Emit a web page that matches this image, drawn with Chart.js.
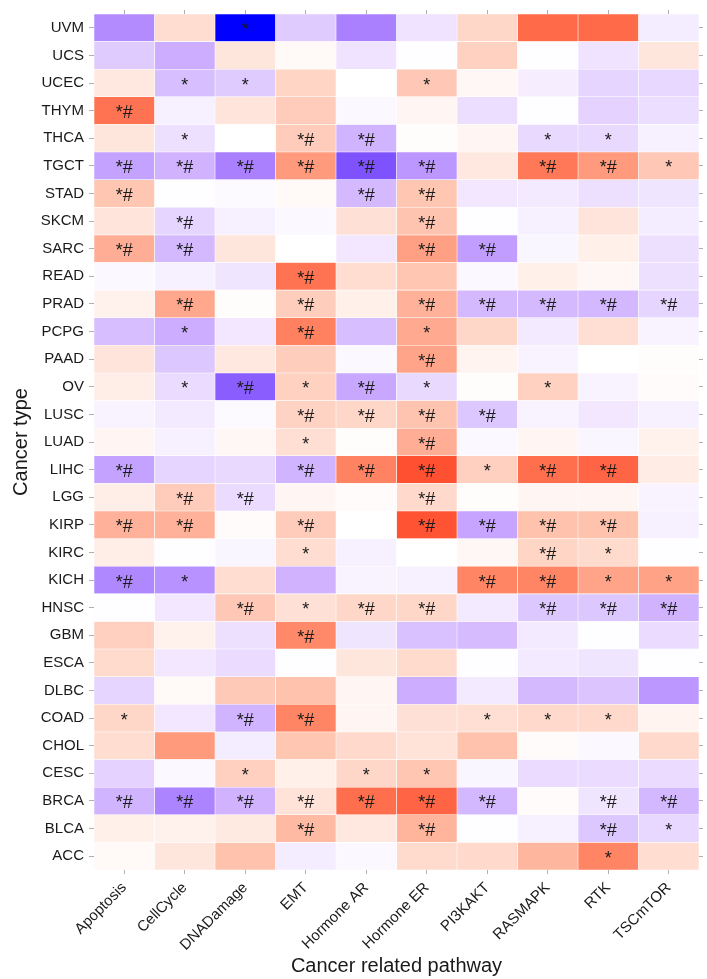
<!DOCTYPE html>
<html><head><meta charset="utf-8">
<script src="https://cdn.jsdelivr.net/npm/chart.js@4.4.1/dist/chart.umd.min.js"></script>
<style>html,body{margin:0;padding:0;background:#fff;}canvas{display:block;}</style>
</head><body>
<canvas id="c" width="707" height="979"></canvas>
<script>
const cancerTypes = ['UVM','UCS','UCEC','THYM','THCA','TGCT','STAD','SKCM','SARC','READ','PRAD','PCPG','PAAD','OV','LUSC','LUAD','LIHC','LGG','KIRP','KIRC','KICH','HNSC','GBM','ESCA','DLBC','COAD','CHOL','CESC','BRCA','BLCA','ACC'];
const pathways = ['Apoptosis','CellCycle','DNADamage','EMT','Hormone AR','Hormone ER','PI3KAKT','RASMAPK','RTK','TSCmTOR'];

// Scores per pathway, in cancerTypes order (UVM ... ACC)
const apoptosis  = [-0.5,-0.22,0.12,0.7,0.13,-0.4,0.3,0.14,0.42,-0.03,0.07,-0.28,0.14,0.09,-0.05,0.05,-0.4,0.09,0.4,0.09,-0.52,-0.01,0.25,0.19,-0.18,0.21,0.18,-0.19,-0.32,0.08,0.03];
const cellCycle  = [0.18,-0.35,-0.28,-0.06,-0.13,-0.33,-0.01,-0.18,-0.3,-0.06,0.45,-0.35,-0.24,-0.15,-0.09,-0.06,-0.18,0.27,0.4,-0.01,-0.47,-0.1,0.07,-0.1,0.03,-0.1,0.52,-0.03,-0.53,0.07,0.13];
const dnaDamage  = [-1,0.13,-0.22,0.14,0,-0.55,-0.02,-0.06,0.13,-0.11,0.01,-0.1,0.12,-0.7,-0.02,0.04,-0.16,-0.15,0.02,-0.04,0.18,0.29,-0.13,-0.15,0.28,-0.32,-0.08,0.25,-0.33,0.11,0.32];
const emt        = [-0.22,0.03,0.22,0.27,0.27,0.52,0.03,-0.03,0,0.7,0.26,0.64,0.26,0.24,0.23,0.17,-0.32,0.05,0.27,0.18,-0.33,0.16,0.6,-0.01,0.32,0.62,0.3,0.08,0.15,0.36,-0.08];
const hormoneAR  = [-0.55,-0.12,0,-0.03,-0.32,-0.75,-0.3,0.16,-0.1,0.18,0.08,-0.28,-0.03,-0.38,0.21,0.01,0.63,0.02,0,-0.06,-0.05,0.21,-0.11,0.13,0.05,0.05,0.2,0.21,0.72,0.12,-0.03];
const hormoneER  = [-0.12,-0.01,0.29,0.05,0.01,-0.45,0.3,0.31,0.49,0.3,0.4,0.44,0.47,-0.16,0.31,0.42,0.84,0.2,0.83,0,-0.06,0.21,-0.27,0.19,-0.35,0.16,0.15,0.3,0.76,0.39,0.19];
const pi3kakt    = [0.21,0.24,0.04,-0.14,0.05,0.12,-0.1,-0.01,-0.42,-0.03,-0.3,0.21,0.06,0.01,-0.24,-0.03,0.25,0.01,-0.39,0.04,0.62,-0.09,-0.29,-0.01,-0.09,0.17,0.32,-0.04,-0.31,-0.01,0.2];
const rasmapk    = [0.74,-0.01,-0.07,-0.01,-0.16,0.68,-0.09,-0.06,-0.04,0.08,-0.3,-0.09,-0.05,0.24,-0.05,0.05,0.72,0.05,0.32,0.22,0.62,-0.24,-0.09,-0.09,-0.3,0.2,0.02,-0.15,0.02,-0.06,0.38];
const rtk        = [0.74,-0.12,-0.18,-0.19,-0.16,0.52,-0.13,0.14,0.08,0.04,-0.31,0.17,0,-0.05,-0.1,-0.04,0.76,0.05,0.32,0.19,0.47,-0.24,-0.01,-0.11,-0.25,0.2,-0.03,-0.15,-0.11,-0.24,0.62];
const tscmtor    = [-0.08,0.13,-0.17,-0.14,-0.06,0.29,-0.11,-0.08,-0.13,-0.13,-0.18,-0.05,0.01,0.02,-0.06,0.07,0.1,-0.05,-0.06,-0.01,0.48,-0.33,-0.15,-0.01,-0.45,0.06,0.2,-0.15,-0.31,-0.17,0.18];

// Significance marks per pathway, same order
const sigApoptosis = ['','','','*#','','*#','*#','','*#','','','','','','','','*#','','*#','','*#','','','','','*','','','*#','',''];
const sigCellCycle = ['','','*','','*','*#','','*#','*#','','*#','*','','*','','','','*#','*#','','*','','','','','','','','*#','',''];
const sigDnaDamage = ['*','','*','','','*#','','','','','','','','*#','','','','*#','','','','*#','','','','*#','','*','*#','',''];
const sigEmt       = ['','','','','*#','*#','','','','*#','*#','*#','','*','*#','*','*#','','*#','*','','*','*#','','','*#','','','*#','*#',''];
const sigHormoneAR = ['','','','','*#','*#','*#','','','','','','','*#','*#','','*#','','','','','*#','','','','','','*','*#','',''];
const sigHormoneER = ['','','*','','','*#','*#','*#','*#','','*#','*','*#','*','*#','*#','*#','*#','*#','','','*#','','','','','','*','*#','*#',''];
const sigPi3kakt   = ['','','','','','','','','*#','','*#','','','','*#','','*','','*#','','*#','','','','','*','','','*#','',''];
const sigRasmapk   = ['','','','','*','*#','','','','','*#','','','*','','','*#','','*#','*#','*#','*#','','','','*','','','','',''];
const sigRtk       = ['','','','','*','*#','','','','','*#','','','','','','*#','','*#','*','*','*#','','','','*','','','*#','*#','*'];
const sigTscmtor   = ['','','','','','*','','','','','*#','','','','','','','','','','*','*#','','','','','','','*#','*',''];

const valueCols = [apoptosis,cellCycle,dnaDamage,emt,hormoneAR,hormoneER,pi3kakt,rasmapk,rtk,tscmtor];
const sigCols = [sigApoptosis,sigCellCycle,sigDnaDamage,sigEmt,sigHormoneAR,sigHormoneER,sigPi3kakt,sigRasmapk,sigRtk,sigTscmtor];

// Lab interpolation (blue - white - red diverging)
function s2l(c){c/=255;return c<=0.04045?c/12.92:Math.pow((c+0.055)/1.055,2.4);}
function l2s(c){c=Math.max(0,Math.min(1,c));return Math.round(255*(c<=0.0031308?12.92*c:1.055*Math.pow(c,1/2.4)-0.055));}
function rgb2lab(rgb){const r=s2l(rgb[0]),g=s2l(rgb[1]),b=s2l(rgb[2]);
  const X=(0.4124564*r+0.3575761*g+0.1804375*b)/0.95047,Y=0.2126729*r+0.7151522*g+0.0721750*b,Z=(0.0193339*r+0.1191920*g+0.9503041*b)/1.08883;
  const f=t=>t>0.008856?Math.cbrt(t):7.787*t+16/116;const fx=f(X),fy=f(Y),fz=f(Z);
  return [116*fy-16,500*(fx-fy),200*(fy-fz)];}
function lab2css(lab){const fy=(lab[0]+16)/116,fx=fy+lab[1]/500,fz=fy-lab[2]/200;
  const fi=t=>{const t3=t*t*t;return t3>0.008856?t3:(t-16/116)/7.787;};
  const X=0.95047*fi(fx),Y=fi(fy),Z=1.08883*fi(fz);
  const r=3.2404542*X-1.5371385*Y-0.4985314*Z,g=-0.9692660*X+1.8760108*Y+0.0415560*Z,b=0.0556434*X-0.2040259*Y+1.0572252*Z;
  return 'rgb('+l2s(r)+','+l2s(g)+','+l2s(b)+')';}
const LAB_LOW=rgb2lab([0,0,255]),LAB_MID=rgb2lab([255,255,255]),LAB_HIGH=rgb2lab([255,0,0]);
const maxAbs=Math.max(...valueCols.flat().map(Math.abs));
function fillFor(v){const t=Math.min(1,Math.abs(v)/maxAbs);const end=v<0?LAB_LOW:LAB_HIGH;
  return lab2css([0,1,2].map(k=>LAB_MID[k]+(end[k]-LAB_MID[k])*t));}

const FONT='"Liberation Sans", Arial, Helvetica, sans-serif';
const TXT='#1a1a1a', TICKC='#b0b0b0';

const datasets = pathways.map((p,j)=>({
  label:p,
  data:cancerTypes.map(()=>[j,j+1]),
  backgroundColor:valueCols[j].map(fillFor),
  borderColor:'rgba(255,255,255,0.55)',
  borderWidth:0.6,
  borderSkipped:false,
  grouped:false,
  barPercentage:1,
  categoryPercentage:1
}));

const colTicks = s => { s.ticks = pathways.map((_,i)=>({value:i+0.5})); };

const sigPlugin = {
  id:'sigPlugin',
  afterDatasetsDraw(chart){
    const {ctx,scales:{x,y}}=chart;
    ctx.save();
    ctx.fillStyle=TXT;ctx.textAlign='center';ctx.textBaseline='alphabetic';
    ctx.font='18px '+FONT;
    sigCols.forEach((col,j)=>col.forEach((s,i)=>{
      if(!s) return;
      ctx.fillText(s,x.getPixelForValue(j+0.5),y.getPixelForValue(i)+7.5);
    }));
    ctx.restore();
  }
};

new Chart(document.getElementById('c'),{
  type:'bar',
  data:{labels:cancerTypes,datasets},
  options:{
    indexAxis:'y',responsive:false,animation:false,
    layout:{padding:{left:0,right:4,top:2,bottom:0}},
    plugins:{legend:{display:false},tooltip:{enabled:false}},
    scales:{
      x:{type:'linear',position:'bottom',min:0,max:10,
        afterBuildTicks:colTicks,
        afterFit:s=>{s.height=109;},
        ticks:{autoSkip:false,minRotation:45,maxRotation:45,color:TXT,font:{family:FONT,size:15},padding:5,
          callback:(v,i)=>pathways[i]},
        grid:{drawOnChartArea:false,drawTicks:true,tickLength:4,color:TICKC},
        border:{display:false},
        title:{display:true,text:'Cancer related pathway',color:TXT,font:{family:FONT,size:20},padding:{top:0,bottom:1}}
      },
      x2:{type:'linear',position:'top',min:0,max:10,
        afterBuildTicks:colTicks,
        ticks:{display:false},
        grid:{drawOnChartArea:false,drawTicks:true,tickLength:4,color:TICKC},
        border:{display:false}
      },
      y:{type:'category',position:'left',offset:true,
        afterFit:s=>{s.width=94;},
        ticks:{color:TXT,font:{family:FONT,size:15},padding:5,autoSkip:false},
        grid:{offset:false,drawOnChartArea:false,drawTicks:true,tickLength:5,color:TICKC},
        border:{display:false},
        title:{display:true,text:'Cancer type',color:TXT,font:{family:FONT,size:20},padding:{top:9,bottom:0}}
      },
      y2:{type:'category',position:'right',offset:true,labels:cancerTypes,
        ticks:{display:false},
        grid:{offset:false,drawOnChartArea:false,drawTicks:true,tickLength:4,color:TICKC},
        border:{display:false}
      }
    }
  },
  plugins:[sigPlugin]
});
</script>
</body></html>
